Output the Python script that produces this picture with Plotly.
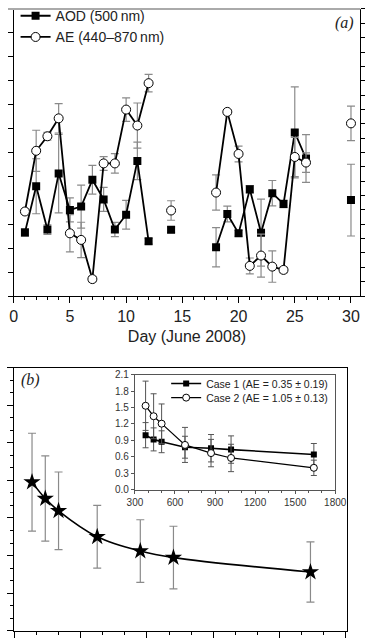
import plotly.graph_objects as go

W, H = 378, 641


def px(x):
    return x / W


def py(y):
    return 1 - y / H


# ---------------- Panel (a) data ----------------
days = list(range(1, 31))
aod = [0.266, 0.459, 0.278, 0.512, 0.360, 0.374, 0.486, 0.404, 0.278, 0.340,
       0.565, 0.229, None, 0.277, None, None, None, 0.204, 0.343, 0.262,
       0.446, 0.265, 0.430, 0.385, 0.684, 0.575, None, None, None, 0.401]
aod_err = [0.016, 0.115, 0.02, 0.164, 0.05, 0.09, 0.06, 0.05, 0.03, 0.06,
           0.078, 0.012, 0, 0.012, 0, 0, 0, 0.082, 0.033, 0.012,
           0.016, 0.14, 0.053, 0.016, 0.19, 0.10, 0, 0, 0, 0.15]
ae = [0.589, 1.012, 1.113, 1.238, 0.437, 0.391, 0.118, 0.924, 0.924, 1.299,
      1.188, 1.483, None, 0.596, None, None, None, 0.721, 1.283, 0.990,
      0.210, 0.282, 0.205, 0.182, 0.969, 0.930, None, None, None, 1.203]
ae_err = [0.02, 0.143, 0.027, 0.102, 0.13, 0.123, 0.02, 0.048, 0.068, 0.082,
          0.157, 0.061, 0, 0.068, 0, 0, 0, 0.123, 0.014, 0.055,
          0.055, 0.15, 0.109, 0.02, 0.137, 0.068, 0, 0, 0, 0.12]
day_ticks = [0, 5, 10, 15, 20, 25, 30]

# ---------------- Panel (b) data ----------------
wavelength = [380, 440, 500, 675, 870, 1020, 1640]
aod_mean = [1.186, 1.055, 0.957, 0.750, 0.636, 0.584, 0.469]
aod_mean_err = [0.39, 0.34, 0.31, 0.25, 0.25, 0.25, 0.24]

case1 = [0.996, 0.919, 0.876, 0.776, 0.758, 0.733, 0.644]
case1_err = [0.23, 0.21, 0.20, 0.20, 0.25, 0.25, 0.20]
case2 = [1.533, 1.342, 1.206, 0.818, 0.669, 0.580, 0.400]
case2_err = [0.45, 0.41, 0.36, 0.32, 0.25, 0.25, 0.14]

FONT = "Arial, Liberation Sans, sans-serif"
SERIF = "Times New Roman, Liberation Serif, serif"
ERRC = "#8a8a8a"

fig = go.Figure()

fig.add_trace(go.Scatter(
    x=days, y=aod, name="AOD (500\u2009nm)", mode="lines+markers",
    connectgaps=False, legend="legend", legendgroup="a1",
    line=dict(color="black", width=1.8),
    marker=dict(symbol="square", size=8, color="black"),
    error_y=dict(type="data", array=aod_err, color=ERRC, thickness=1.2, width=4),
    xaxis="x", yaxis="y"))
fig.add_trace(go.Scatter(
    x=days, y=ae, name="AE (440\u2013870\u2009nm)", mode="lines+markers",
    connectgaps=False, legend="legend", legendgroup="a2",
    line=dict(color="black", width=1.8),
    marker=dict(symbol="circle", size=9, color="white", line=dict(color="black", width=1)),
    error_y=dict(type="data", array=ae_err, color=ERRC, thickness=1.2, width=4),
    xaxis="x", yaxis="y2"))

fig.add_trace(go.Scatter(
    x=wavelength, y=aod_mean, mode="lines+markers", showlegend=False,
    line=dict(color="black", width=1.6, shape="spline", smoothing=1.0),
    marker=dict(symbol="star", size=13, color="black"),
    error_y=dict(type="data", array=aod_mean_err, color=ERRC, thickness=1.2, width=4),
    xaxis="x2", yaxis="y3"))

fig.add_trace(go.Scatter(
    x=wavelength, y=case1, name="Case 1 (AE = 0.35 \u00b1 0.19)", mode="lines+markers",
    legend="legend2",
    line=dict(color="black", width=1.6),
    marker=dict(symbol="square", size=6, color="black"),
    error_y=dict(type="data", array=case1_err, color="#555", thickness=1, width=3),
    xaxis="x3", yaxis="y4"))
fig.add_trace(go.Scatter(
    x=wavelength, y=case2, name="Case 2 (AE = 1.05 \u00b1 0.13)", mode="lines+markers",
    legend="legend3",
    line=dict(color="black", width=1.2),
    marker=dict(symbol="circle", size=7, color="white", line=dict(color="black", width=1)),
    error_y=dict(type="data", array=case2_err, color="#555", thickness=1, width=3),
    xaxis="x3", yaxis="y4"))

common = dict(showgrid=False, zeroline=False, showline=True, linecolor="black",
              linewidth=1.2, tickcolor="black", ticks="outside")

inset_legend = dict(xanchor="left", yanchor="middle", bgcolor="rgba(0,0,0,0)",
                    font=dict(size=10.5, color="#222"))

fig.update_layout(
    width=W, height=H, margin=dict(l=0, r=0, t=0, b=0),
    paper_bgcolor="white", plot_bgcolor="white",
    font=dict(family=FONT, color="#222"),
    xaxis=dict(domain=[px(6), px(372)], range=[0, 30.83], anchor="y",
               tickvals=day_ticks, ticklen=6, tickwidth=1.2,
               minor=dict(dtick=1, tick0=0, ticklen=3, ticks="outside", tickcolor="black"),
               tickfont=dict(size=16, color="#222"),
               title=dict(text="Day (June 2008)", font=dict(size=16, color="#222"), standoff=6),
               **common),
    yaxis=dict(domain=[py(294), py(1)], range=[0, 1.2], anchor="x", dtick=0.1,
               ticklen=5, showticklabels=False, **common),
    yaxis2=dict(overlaying="y", side="right", anchor="x", range=[0, 2.0], dtick=0.1,
                ticklen=4, showticklabels=False, **common),
    xaxis2=dict(domain=[px(6), px(358)], range=[297, 1805.6], anchor="y3",
                tick0=300, dtick=300, ticklen=6, showticklabels=False, mirror=True,
                minor=dict(dtick=100, tick0=300, ticklen=3, ticks="outside", tickcolor="black"),
                **common),
    yaxis3=dict(domain=[py(635.7), py(367)], range=[0, 2.1], anchor="x2",
                tick0=0, dtick=0.3, ticklen=6, showticklabels=False, mirror=True,
                minor=dict(dtick=0.1, tick0=0, ticklen=3, ticks="outside", tickcolor="black"),
                **common),
    xaxis3=dict(domain=[px(134), px(345.5)], range=[300, 1800], anchor="y4",
                tick0=300, dtick=300, ticklen=3, mirror=True,
                minor=dict(dtick=100, tick0=300, ticklen=2, ticks="outside", tickcolor="#555"),
                tickfont=dict(size=10, color="#333"),
                showgrid=False, zeroline=False, showline=True, linecolor="#555",
                linewidth=1, tickcolor="#555", ticks="outside"),
    yaxis4=dict(domain=[py(491.7), py(374.3)], range=[0, 2.1], anchor="x3",
                tick0=0, dtick=0.3, tickformat=".1f", ticklen=3, mirror=True,
                tickfont=dict(size=10, color="#333"),
                showgrid=False, zeroline=False, showline=True, linecolor="#555",
                linewidth=1, tickcolor="#555", ticks="outside"),
    legend=dict(x=px(8), y=py(-8), xanchor="left", yanchor="top",
                bgcolor="rgba(0,0,0,0)", font=dict(size=14, color="#222"),
                tracegroupgap=2, traceorder="normal"),
    legend2=dict(x=px(167), y=py(383.3), **inset_legend),
    legend3=dict(x=px(167), y=py(397.7), **inset_legend),
    showlegend=True,
    shapes=[
        dict(type="line", xref="paper", yref="paper", x0=0, x1=px(372),
             y0=py(1), y1=py(1), line=dict(color="#aaaaaa", width=2)),
    ],
    annotations=[
        dict(text="<i>(a)</i>", x=px(367), y=py(15), xref="paper", yref="paper",
             xanchor="right", yanchor="middle", showarrow=False,
             font=dict(family=SERIF, size=16, color="#222")),
        dict(text="<i>(b)</i>", x=px(12), y=py(380), xref="paper", yref="paper",
             xanchor="left", yanchor="middle", showarrow=False,
             font=dict(family=SERIF, size=16, color="#222")),
    ],
)

fig.write_html(
    "out.html",
    config={"displayModeBar": False},
    post_script="document.body.style.margin='0';document.body.style.overflow='hidden';",
)
